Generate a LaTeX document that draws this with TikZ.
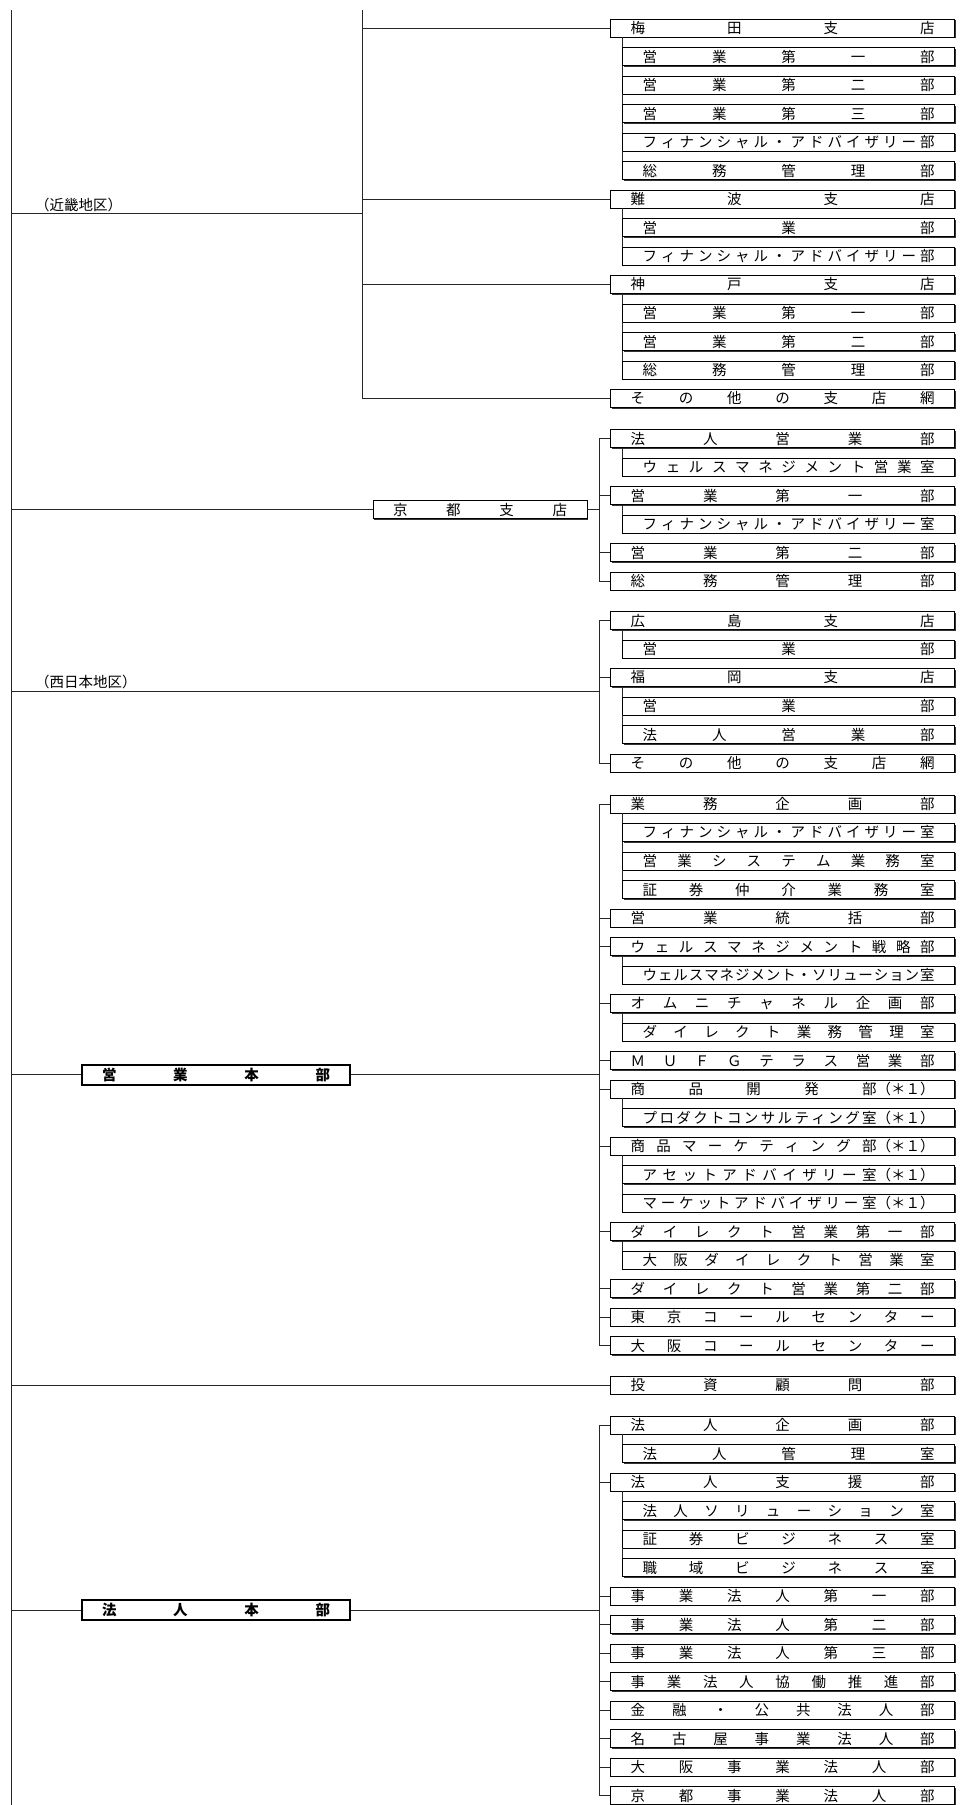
\documentclass[tikz,border=0pt]{standalone}
\usepackage{fontspec}
\newfontfamily\cjk{Noto Sans CJK JP}
\usetikzlibrary{positioning,calc,shadows}

% spread the characters of a label evenly over the box
\def\spreadstop{\relax}
\def\spreadfirst#1{#1\spreadrest}
\def\spreadrest#1{\def\spreadtmp{#1}\ifx\spreadtmp\spreadstop\else\hfil#1\expandafter\spreadrest\fi}
\newcommand\spreadbox[2]{\makebox[\dimexpr#1pt-40pt\relax][s]{\expandafter\spreadfirst#2\relax}}

% one column of units on a branch line: prefix, first row, width/text list
\newcommand\unitcol[3]{%
  \foreach \w/\txt [count=\i from 0] in {#3} {
    \node[box=\w,anchor=east] (#1\i) at (955,#2+28.5*\i) {\spreadbox{\w}{\txt}};
    \ifnum\w=344
      \draw[conn] (#1\i.west) -- (#1\i.west -| br#1);
    \else
      \pgfmathtruncatemacro\j{\i-1}
      \draw[conn] (#1\i.north west) -- (#1\i.north west |- #1\j.south);
    \fi
  }}

\begin{document}
\begin{tikzpicture}[x=1pt,y=-1pt,
  conn/.style={draw,line width=1pt,black!85},
  box/.style={draw,fill=white,line width=.7pt,minimum width=#1pt,minimum height=18pt,inner sep=0pt,
    font=\cjk\fontsize{14.5}{15}\selectfont,
    drop shadow={shadow xshift=1pt,shadow yshift=-1pt,fill=black!80,opacity=1}},
  hq/.style={draw,fill=white,line width=2pt,minimum width=268pt,minimum height=20pt,inner sep=0pt,
    font=\cjk\bfseries\fontsize{14.5}{15}\selectfont,
    drop shadow={shadow xshift=1pt,shadow yshift=-1pt,fill=black!60,opacity=1}},
  lbl/.style={inner sep=1pt,font=\cjk\fontsize{14.5}{15}\selectfont}]
  \useasboundingbox (0,0) rectangle (966,1805);
  \coordinate (trunk) at (11,10);
  \coordinate (brkin) at (362,10);
  \coordinate (brkyo) at (599,0);
  \coordinate (brwes) at (599,0);
  \coordinate (breig) at (599,0);
  \coordinate (brhoj) at (599,0);

  \unitcol{kin}{28}{344/梅田支店, 332/営業第一部, 332/営業第二部, 332/営業第三部,
    332/フィナンシャル・アドバイザリー部, 332/総務管理部, 344/難波支店, 332/営業部,
    332/フィナンシャル・アドバイザリー部, 344/神戸支店, 332/営業第一部, 332/営業第二部,
    332/総務管理部, 344/その他の支店網}
  \unitcol{kyo}{438.5}{344/法人営業部, 332/ウェルスマネジメント営業室, 344/営業第一部,
    332/フィナンシャル・アドバイザリー室, 344/営業第二部, 344/総務管理部}
  \unitcol{wes}{620.5}{344/広島支店, 332/営業部, 344/福岡支店, 332/営業部, 332/法人営業部,
    344/その他の支店網}
  \unitcol{eig}{804}{344/業務企画部, 332/フィナンシャル・アドバイザリー室, 332/営業システム業務室,
    332/証券仲介業務室, 344/営業統括部, 344/ウェルスマネジメント戦略部,
    332/ウェルスマネジメント・ソリューション室, 344/オムニチャネル企画部, 332/ダイレクト業務管理室,
    344/ＭＵＦＧテラス営業部, 344/商品開発{部（＊１）}, 332/プロダクトコンサルティング{室（＊１）},
    344/商品マーケティング{部（＊１）}, 332/アセットアドバイザリー{室（＊１）},
    332/マーケットアドバイザリー{室（＊１）}, 344/ダイレクト営業第一部, 332/大阪ダイレクト営業室,
    344/ダイレクト営業第二部, 344/東京コールセンター, 344/大阪コールセンター}
  \unitcol{hoj}{1425}{344/法人企画部, 332/法人管理室, 344/法人支援部, 332/法人ソリューション室,
    332/証券ビジネス室, 332/職域ビジネス室, 344/事業法人第一部, 344/事業法人第二部,
    344/事業法人第三部, 344/事業法人協働推進部, 344/金融・公共法人部, 344/名古屋事業法人部,
    344/大阪事業法人部, 344/京都事業法人部}

  \node[box=214] (kyoto) at (480,509.75) {\spreadbox{214}{京都支店}};
  \node[hq] (eighq) at (216,1074.75) {\spreadbox{268}{営業本部}};
  \node[box=344,anchor=east] (toushi) at (955,1385) {\spreadbox{344}{投資顧問部}};
  \node[hq] (hojhq) at (216,1610.25) {\spreadbox{268}{法人本部}};

  \coordinate (kinmid) at ($(kin0.west)!.5!(kin13.west)$);
  \coordinate (wesmid) at ($(wes0.west)!.5!(wes5.west)$);
  \node[lbl,above right=0pt and 23pt of kinmid -| trunk] (kinlbl) {（近畿地区）};
  \node[lbl,above right=2pt and 23pt of wesmid -| trunk] (weslbl) {（西日本地区）};

  % trunk and branch lines
  \draw[conn] (trunk) -- ++(0,1795);
  \draw[conn] (brkin) -- (kin13.west -| brkin);
  \draw[conn] (kyo0.west -| brkyo) -- (kyo5.west -| brkyo);
  \draw[conn] (wes0.west -| brwes) -- (wes5.west -| brwes);
  \draw[conn] (eig0.west -| breig) -- (eig19.west -| breig);
  \draw[conn] (hoj0.west -| brhoj) -- (hoj13.west -| brhoj);
  \draw[conn] (kinmid -| trunk) -- (kinmid -| brkin);
  \draw[conn] (kyoto.west -| trunk) -- (kyoto.west);
  \draw[conn] (kyoto.east) -- (kyoto.east -| brkyo);
  \draw[conn] (wesmid -| trunk) -- (wesmid -| brwes);
  \draw[conn] (eighq.west -| trunk) -- (eighq.west);
  \draw[conn] (eighq.east) -- (eighq.east -| breig);
  \draw[conn] (toushi.west -| trunk) -- (toushi.west);
  \draw[conn] (hojhq.west -| trunk) -- (hojhq.west);
  \draw[conn] (hojhq.east) -- (hojhq.east -| brhoj);
\end{tikzpicture}
\end{document}
